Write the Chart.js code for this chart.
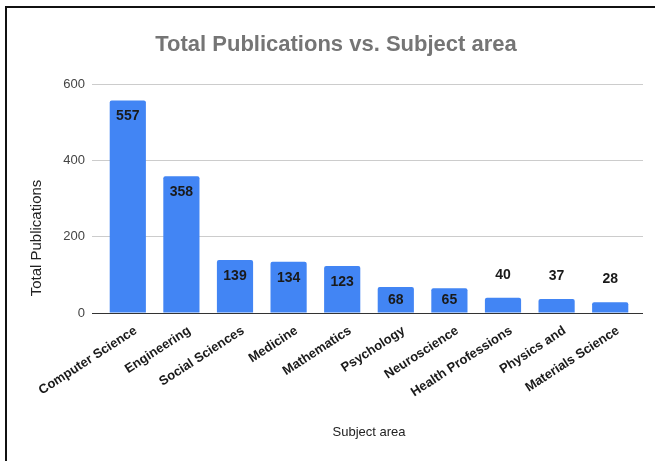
<!DOCTYPE html>
<html lang="en">
<head>
<meta charset="utf-8" />
<title>Total Publications vs. Subject area</title>
<style>
*{box-sizing:border-box;margin:0;padding:0}
html,body{width:655px;height:461px;overflow:hidden;background:#fff}
/* outer frame, open on the right and bottom */
.frame{position:absolute;left:5px;top:6px;width:700px;height:500px;border:2px solid #111}
.chart-wrapper{position:absolute;left:0;top:0;width:655px;height:461px}
</style>
</head>
<body>
<div class="frame"></div>
<div class="chart-wrapper"><canvas id="pubBar"></canvas></div>

<script src="https://cdn.jsdelivr.net/npm/chart.js@4.4.1"></script>
<script>
/* ─── data ─────────────────────────────────────────────── */
const subjects = [
    'Computer Science', 'Engineering', 'Social Sciences', 'Medicine', 'Mathematics',
    'Psychology', 'Neuroscience', 'Health Professions', 'Physics and', 'Materials Science'
];
const publications = [557, 358, 139, 134, 123, 68, 65, 40, 37, 28];
const yTicks = [0, 200, 400, 600];

const SANS = '"Liberation Sans", Arial, sans-serif';
const BLUE = '#4285f4';

/* same pixel snapping Chart.js uses for 1px grid lines */
const snap = p => Math.round(p - 0.5) + 0.5;

/* value labels: inside tall bars, above short ones */
const valueLabels = {
    id: 'valueLabels',
    afterDatasetsDraw(chart){
        const {ctx} = chart;
        const meta = chart.getDatasetMeta(0);
        ctx.save();
        ctx.font = 'bold 14px ' + SANS;
        ctx.fillStyle = '#1a1a1a';
        ctx.textAlign = 'center';
        ctx.textBaseline = 'middle';
        meta.data.forEach((bar, i) => {
            const h = bar.base - bar.y;
            const y = h > 20 ? bar.y + Math.min(16, h / 2) : bar.y - 23;
            ctx.fillText(publications[i], bar.x, y);
        });
        ctx.restore();
    }
};

/* gridline stubs past the right edge, dark zero line, y title */
const axisExtras = {
    id: 'axisExtras',
    beforeDatasetsDraw(chart){
        const {ctx, chartArea, scales:{y}} = chart;
        ctx.save();
        ctx.lineWidth = 1;
        ctx.strokeStyle = '#cccccc';
        y.ticks.forEach(t => {
            if (t.value === 0) return;
            const py = snap(y.getPixelForValue(t.value));
            ctx.beginPath();
            ctx.moveTo(chartArea.right, py);
            ctx.lineTo(chartArea.right + 6, py);
            ctx.stroke();
        });
        ctx.restore();
    },
    afterDatasetsDraw(chart){
        const {ctx, chartArea, scales:{y}} = chart;
        const py = snap(y.getPixelForValue(0));
        ctx.save();
        ctx.strokeStyle = '#333';
        ctx.lineWidth = 1;
        ctx.beginPath();
        ctx.moveTo(chartArea.left - 9, py);
        ctx.lineTo(chartArea.right + 6, py);
        ctx.stroke();
        ctx.restore();
    },
    afterDraw(chart){
        const {ctx, chartArea} = chart;
        ctx.save();
        ctx.translate(37, chartArea.bottom - 75);
        ctx.rotate(-Math.PI / 2);
        ctx.font = '15px ' + SANS;
        ctx.fillStyle = '#222';
        ctx.textAlign = 'center';
        ctx.textBaseline = 'middle';
        ctx.fillText('Total Publications', 0, 0);
        ctx.restore();
    }
};

new Chart(document.getElementById('pubBar'), {
    type: 'bar',
    data: {
        labels: subjects,
        datasets: [{
            data: publications,
            backgroundColor: BLUE,
            borderRadius: {topLeft: 2, topRight: 2},
            borderSkipped: 'bottom',
            barPercentage: 0.675,
            categoryPercentage: 1
        }]
    },
    options: {
        responsive: true,
        maintainAspectRatio: false,
        animation: false,
        layout: {padding: {top: 0, left: 35, right: 18, bottom: 0}},
        scales: {
            x: {
                grid: {display: false},
                border: {display: false},
                afterFit: s => { s.height = 148; },
                ticks: {
                    autoSkip: false,
                    minRotation: 33,
                    maxRotation: 33,
                    padding: 2,
                    labelOffset: 8,
                    color: '#1a1a1a',
                    font: {family: SANS, size: 13, weight: 'bold'}
                },
                title: {
                    display: true,
                    text: 'Subject area',
                    color: '#222',
                    font: {family: SANS, size: 13},
                    padding: {top: 0, bottom: 21}
                }
            },
            y: {
                min: 0,
                max: yTicks[yTicks.length - 1],
                afterFit: s => { s.width = 66; },
                afterBuildTicks: s => { s.ticks = yTicks.map(v => ({value: v})); },
                border: {display: false},
                grid: {
                    color: c => c.tick && c.tick.value === 0 ? '#333' : '#cccccc',
                    drawTicks: true,
                    tickLength: 9
                },
                ticks: {
                    padding: 7,
                    color: '#444',
                    font: {family: SANS, size: 13}
                }
            }
        },
        plugins: {
            legend: {display: false},
            tooltip: {enabled: false},
            title: {
                display: true,
                text: 'Total Publications vs. Subject area',
                color: '#757575',
                font: {family: SANS, size: 22, weight: 'bold'},
                padding: {top: 32, bottom: 25.6}
            }
        }
    },
    plugins: [axisExtras, valueLabels]
});
</script>
</body>
</html>
